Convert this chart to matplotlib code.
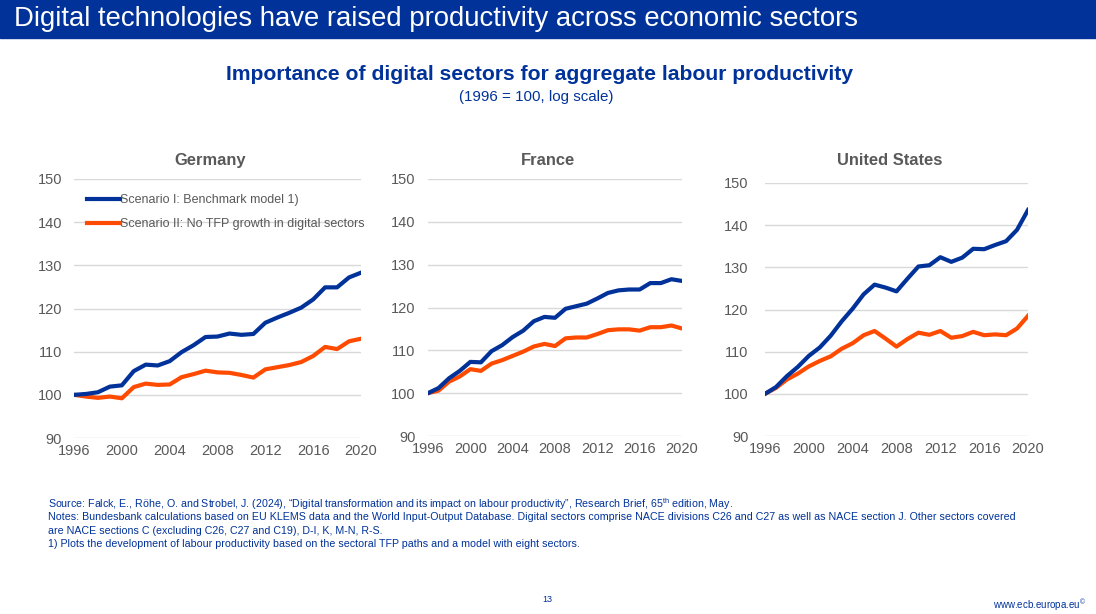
import numpy as np
import matplotlib
matplotlib.use('Agg')
import matplotlib.pyplot as plt
from matplotlib.patches import Rectangle

plt.rcParams['font.family'] = ['Liberation Sans', 'DejaVu Sans']
plt.rcParams['mathtext.fontset'] = 'custom'
plt.rcParams['mathtext.rm'] = 'Liberation Sans'

years = list(range(1996, 2021))

germany_s1 = [100, 100.2, 100.6, 101.9, 102.2, 105.5, 107.0, 106.8, 107.8, 109.9, 111.5, 113.4, 113.5,
              114.2, 113.9, 114.1, 116.7, 117.9, 119.0, 120.2, 122.1, 124.9, 124.9, 127.2, 128.3]
germany_s2 = [100, 99.6, 99.3, 99.6, 99.2, 101.8, 102.6, 102.3, 102.4, 104.1, 104.8, 105.6, 105.2,
              105.1, 104.6, 104.0, 105.9, 106.4, 106.9, 107.6, 109.0, 111.1, 110.6, 112.4, 113.0]

france_s1 = [100, 101.2, 103.5, 105.2, 107.3, 107.2, 109.8, 111.2, 113.1, 114.6, 116.8, 117.8, 117.6,
             119.7, 120.3, 120.9, 122.1, 123.4, 124.0, 124.2, 124.2, 125.7, 125.7, 126.6, 126.2]
france_s2 = [100, 100.6, 102.7, 103.9, 105.6, 105.2, 106.9, 107.7, 108.7, 109.7, 110.9, 111.5, 111.0,
             112.8, 113.0, 113.0, 113.8, 114.7, 114.9, 114.9, 114.6, 115.4, 115.4, 115.8, 115.1]

us_s1 = [100, 101.6, 104.2, 106.4, 109.0, 111.0, 113.8, 117.2, 120.2, 123.6, 125.9, 125.2, 124.3,
         127.3, 130.2, 130.5, 132.4, 131.3, 132.3, 134.4, 134.3, 135.3, 136.2, 138.9, 143.6]
us_s2 = [100, 101.4, 103.4, 104.8, 106.5, 107.8, 108.9, 110.7, 112.0, 113.9, 114.9, 113.1, 111.2,
         113.0, 114.5, 114.0, 114.9, 113.3, 113.7, 114.7, 113.9, 114.1, 113.9, 115.5, 118.5]

panel_titles = ['Germany', 'France', 'United States']
series_labels = ['Scenario I: Benchmark model 1)', 'Scenario II: No TFP growth in digital sectors']
yticks = [90, 100, 110, 120, 130, 140, 150]
xticks = [1996, 2000, 2004, 2008, 2012, 2016, 2020]

navy = '#003299'
orange = '#FF4B00'
grey = '#595959'

fig = plt.figure(figsize=(10.96, 6.14), dpi=100)

# header banner
fig.patches.append(Rectangle((0, 1 - 38 / 614), 1, 38 / 614, transform=fig.transFigure,
                             color=navy, zorder=0))
fig.text(14 / 1096, 1 - 19 / 614, 'Digital technologies have raised productivity across economic sectors',
         color='white', fontsize=19.8, va='center', ha='left')

fig.text(540 / 1096, 1 - 74 / 614, 'Importance of digital sectors for aggregate labour productivity',
         color=navy, fontsize=15.2, fontweight='bold', ha='center', va='center')
fig.text(536 / 1096, 1 - 97 / 614, '(1996 = 100, log scale)', color=navy, fontsize=10.9,
         ha='center', va='center')

# axes boxes in pixels: left, bottom, width, height
positions_px = [
    (74, 176, 287, 259),
    (428, 178, 254, 257),
    (765, 178, 263, 253),
]
ypads = [8.5, 9, 12]
title_pads = [10, 10, 13]
data = [(germany_s1, germany_s2), (france_s1, france_s2), (us_s1, us_s2)]

for i, (l, b, w, h) in enumerate(positions_px):
    ax = fig.add_axes([l / 1096, b / 614, w / 1096, h / 614])
    s1, s2 = data[i]
    ax.plot(years, s1, color=navy, linewidth=3, label=series_labels[0], zorder=3)
    ax.plot(years, s2, color=orange, linewidth=3, label=series_labels[1], zorder=2)
    ax.set_xlim(1996, 2020)
    ax.set_ylim(90, 150)
    ax.set_yticks(yticks)
    ax.set_xticks(xticks)
    ax.grid(axis='y', color='#d9d9d9', linewidth=1)
    ax.set_axisbelow(True)
    for sp in ax.spines.values():
        sp.set_visible(False)
    ax.tick_params(length=0, colors=grey, labelsize=10.5)
    ax.tick_params(axis='y', pad=ypads[i])
    ax.tick_params(axis='x', pad=4)
    # titles sit a little left of the plot centre
    ax.set_title(panel_titles[i], color=grey, fontsize=11.9, fontweight='bold', pad=title_pads[i],
                 x=0.5 - 7 / w)
    if i == 0:
        ax.legend(loc='upper left', bbox_to_anchor=(0.02, 0.97), frameon=False, fontsize=9,
                  labelcolor=grey, handlelength=2.6, handletextpad=0.0, labelspacing=0.95,
                  borderaxespad=0.2)

notes = [
    r'Source: Falck, E., Röhe, O. and Strobel, J. (2024), “Digital transformation and its impact on labour productivity”, Research Brief, 65$^{\mathrm{th}}$ edition, May.',
    'Notes: Bundesbank calculations based on EU KLEMS data and the World Input-Output Database. Digital sectors comprise NACE divisions C26 and C27 as well as NACE section J. Other sectors covered',
    'are NACE sections C (excluding C26, C27 and C19), D-I, K, M-N, R-S.',
    '1) Plots the development of labour productivity based on the sectoral TFP paths and a model with eight sectors.',
]
note_y = [504, 517, 531, 544]
for t, y in zip(notes, note_y):
    fig.text(48 / 1096, 1 - y / 614, t, color=navy, fontsize=7.65, ha='left', va='center')

fig.text(547 / 1096, 1 - 600 / 614, '13', color=navy, fontsize=6.5, ha='center', va='center')
fig.text(1086 / 1096, 1 - 605 / 614, r'www.ecb.europa.eu$^{\copyright}$', color=navy, fontsize=7,
         ha='right', va='center')

fig.savefig('out.png', dpi=100)
